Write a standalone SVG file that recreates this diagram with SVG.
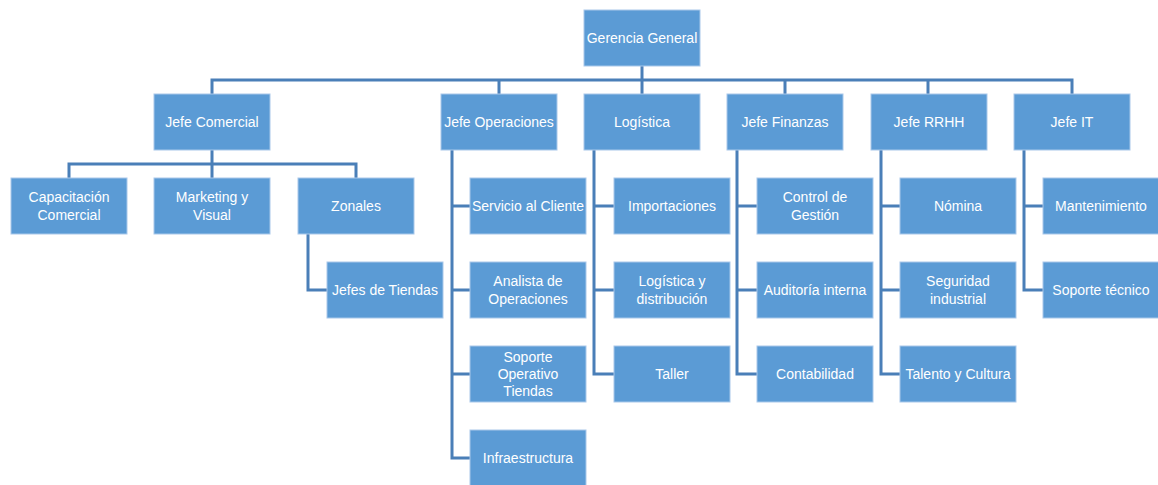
<svg xmlns="http://www.w3.org/2000/svg" width="1158" height="485" viewBox="0 0 1158 485">
<style>
.b{fill:#5b9bd5;stroke:#a9c8ea;stroke-width:1}
.t{font-family:"Liberation Sans",Arial,sans-serif;font-size:14px;fill:#ffffff;text-anchor:middle}
.c{fill:none;stroke:#4a7fb8;stroke-width:3}
</style>
<rect width="1158" height="485" fill="#ffffff"/>
<g id="connectors" class="c">
<path d="M642 66V80"/>
<path d="M212 94V80H1072V94M499 80V94M642 80V94M785 80V94M928 80V94"/>
<path d="M212 150V178M69 178V164H356V178"/>
<path d="M308 234V290H327"/>
<path d="M452 150V458H470M452 206H470M452 290H470M452 374H470"/>
<path d="M594 150V374H614M594 206H614M594 290H614"/>
<path d="M737 150V374H757M737 206H757M737 290H757"/>
<path d="M881 150V374H900M881 206H900M881 290H900"/>
<path d="M1024 150V290H1043M1024 206H1043"/>
</g>
<g id="gerencia"><rect class="b" x="584" y="10" width="116" height="56"/><text class="t" x="642" y="43">Gerencia General</text></g>
<g id="jefe-comercial"><rect class="b" x="154" y="94" width="116" height="56"/><text class="t" x="212" y="127">Jefe Comercial</text></g>
<g id="jefe-operaciones"><rect class="b" x="441" y="94" width="116" height="56"/><text class="t" x="499" y="127">Jefe Operaciones</text></g>
<g id="logistica"><rect class="b" x="584" y="94" width="116" height="56"/><text class="t" x="642" y="127">Logística</text></g>
<g id="jefe-finanzas"><rect class="b" x="727" y="94" width="116" height="56"/><text class="t" x="785" y="127">Jefe Finanzas</text></g>
<g id="jefe-rrhh"><rect class="b" x="871" y="94" width="116" height="56"/><text class="t" x="929" y="127">Jefe RRHH</text></g>
<g id="jefe-it"><rect class="b" x="1014" y="94" width="116" height="56"/><text class="t" x="1072" y="127">Jefe IT</text></g>
<g id="capacitacion"><rect class="b" x="11" y="178" width="116" height="56"/><text class="t" x="69" y="202">Capacitación</text><text class="t" x="69" y="220">Comercial</text></g>
<g id="marketing"><rect class="b" x="154" y="178" width="116" height="56"/><text class="t" x="212" y="202">Marketing y</text><text class="t" x="212" y="220">Visual</text></g>
<g id="zonales"><rect class="b" x="298" y="178" width="116" height="56"/><text class="t" x="356" y="211">Zonales</text></g>
<g id="jefes-tiendas"><rect class="b" x="327" y="262" width="116" height="56"/><text class="t" x="385" y="295">Jefes de Tiendas</text></g>
<g id="servicio-cliente"><rect class="b" x="470" y="178" width="116" height="56"/><text class="t" x="528" y="211">Servicio al Cliente</text></g>
<g id="analista"><rect class="b" x="470" y="262" width="116" height="56"/><text class="t" x="528" y="286">Analista de</text><text class="t" x="528" y="304">Operaciones</text></g>
<g id="soporte-operativo"><rect class="b" x="470" y="346" width="116" height="56"/><text class="t" x="528" y="362">Soporte</text><text class="t" x="528" y="379">Operativo</text><text class="t" x="528" y="396">Tiendas</text></g>
<g id="infraestructura"><rect class="b" x="470" y="430" width="116" height="56"/><text class="t" x="528" y="463">Infraestructura</text></g>
<g id="importaciones"><rect class="b" x="614" y="178" width="116" height="56"/><text class="t" x="672" y="211">Importaciones</text></g>
<g id="logistica-distribucion"><rect class="b" x="614" y="262" width="116" height="56"/><text class="t" x="672" y="286">Logística y</text><text class="t" x="672" y="304">distribución</text></g>
<g id="taller"><rect class="b" x="614" y="346" width="116" height="56"/><text class="t" x="672" y="379">Taller</text></g>
<g id="control-gestion"><rect class="b" x="757" y="178" width="116" height="56"/><text class="t" x="815" y="202">Control de</text><text class="t" x="815" y="220">Gestión</text></g>
<g id="auditoria"><rect class="b" x="757" y="262" width="116" height="56"/><text class="t" x="815" y="295">Auditoría interna</text></g>
<g id="contabilidad"><rect class="b" x="757" y="346" width="116" height="56"/><text class="t" x="815" y="379">Contabilidad</text></g>
<g id="nomina"><rect class="b" x="900" y="178" width="116" height="56"/><text class="t" x="958" y="211">Nómina</text></g>
<g id="seguridad"><rect class="b" x="900" y="262" width="116" height="56"/><text class="t" x="958" y="286">Seguridad</text><text class="t" x="958" y="304">industrial</text></g>
<g id="talento"><rect class="b" x="900" y="346" width="116" height="56"/><text class="t" x="958" y="379">Talento y Cultura</text></g>
<g id="mantenimiento"><rect class="b" x="1043" y="178" width="116" height="56"/><text class="t" x="1101" y="211">Mantenimiento</text></g>
<g id="soporte-tecnico"><rect class="b" x="1043" y="262" width="116" height="56"/><text class="t" x="1101" y="295">Soporte técnico</text></g>
</svg>
